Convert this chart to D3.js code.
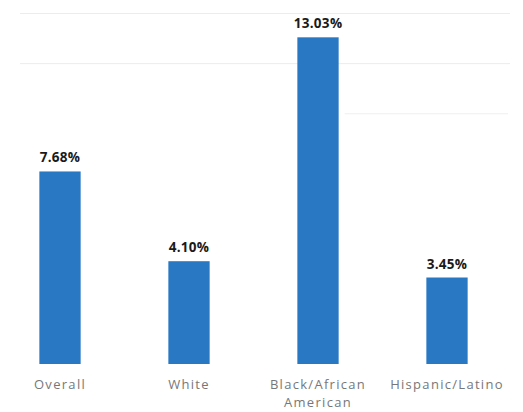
<!DOCTYPE html>
<html>
<head>
<meta charset="utf-8">
<script src="https://cdn.jsdelivr.net/npm/d3@7"></script>
<style>
  body { margin: 0; background: #fff; }
  svg { display: block; }
</style>
</head>
<body>
<svg class="svg"></svg>
<script>
let categories = ["Overall", "White", "Black/African American", "Hispanic/Latino"]
let labelLines = [["Overall"], ["White"], ["Black/African", "American"], ["Hispanic/Latino"]]
let rates = [7.68, 4.10, 13.03, 3.45]
let gridTicks = [12, 14]

let width = 523
let height = 412

let svg = d3.select(".svg").attr("width", width).attr("height", height)

let x = d3.scaleBand().domain(categories).range([-4.5, 511.5]).paddingInner(0.68).paddingOuter(0.34)
let y = d3.scaleLinear().domain([0, 14]).range([364, 13])

// faint gridlines
svg.append("g")
    .selectAll("line")
    .data(gridTicks)
    .enter()
    .append("line")
    .attr("x1", 20)
    .attr("x2", 510)
    .attr("y1", (d) => y(d) + 0.5)
    .attr("y2", (d) => y(d) + 0.5)
    .attr("stroke", "#ececec")
    .attr("stroke-width", 1)

// partial line at 10%, right of the tallest bar
svg.append("line")
    .attr("x1", x(categories[2]) + x.bandwidth() + 6)
    .attr("x2", 508)
    .attr("y1", y(10) + 0.5)
    .attr("y2", y(10) + 0.5)
    .attr("stroke", "#efefef")

svg.selectAll("rect.bar")
    .data(rates)
    .enter()
    .append("rect")
    .attr("class", "bar")
    .attr("x", (d, i) => x(categories[i]))
    .attr("y", (d) => y(d))
    .attr("width", x.bandwidth())
    .attr("height", (d) => y(0) - y(d))
    .attr("fill", "#2878c4")

svg.selectAll("text.value")
    .data(rates)
    .enter()
    .append("text")
    .attr("class", "value")
    .attr("x", (d, i) => x(categories[i]) + x.bandwidth() / 2)
    .attr("y", (d) => y(d) - 9)
    .attr("text-anchor", "middle")
    .style("font-family", "'Open Sans', sans-serif")
    .style("font-weight", 700)
    .style("font-size", "13.5px")
    .style("letter-spacing", "0.3px")
    .attr("fill", "#1a1a1a")
    .text((d) => d.toFixed(2) + "%")

let cat = svg.selectAll("text.cat")
    .data(labelLines)
    .enter()
    .append("text")
    .attr("class", "cat")
    .attr("x", (d, i) => x(categories[i]) + x.bandwidth() / 2)
    .attr("y", 389)
    .attr("text-anchor", "middle")
    .style("font-family", "'Open Sans', sans-serif")
    .style("font-size", "13px")
    .style("letter-spacing", "1.3px")
    .attr("fill", "#777")

cat.selectAll("tspan")
    .data((d, i) => d.map((t) => ({ t: t, i: i })))
    .enter()
    .append("tspan")
    .attr("x", (d) => x(categories[d.i]) + x.bandwidth() / 2)
    .attr("dy", (d, j) => j === 0 ? 0 : 18)
    .text((d) => d.t)
</script>
</body>
</html>
